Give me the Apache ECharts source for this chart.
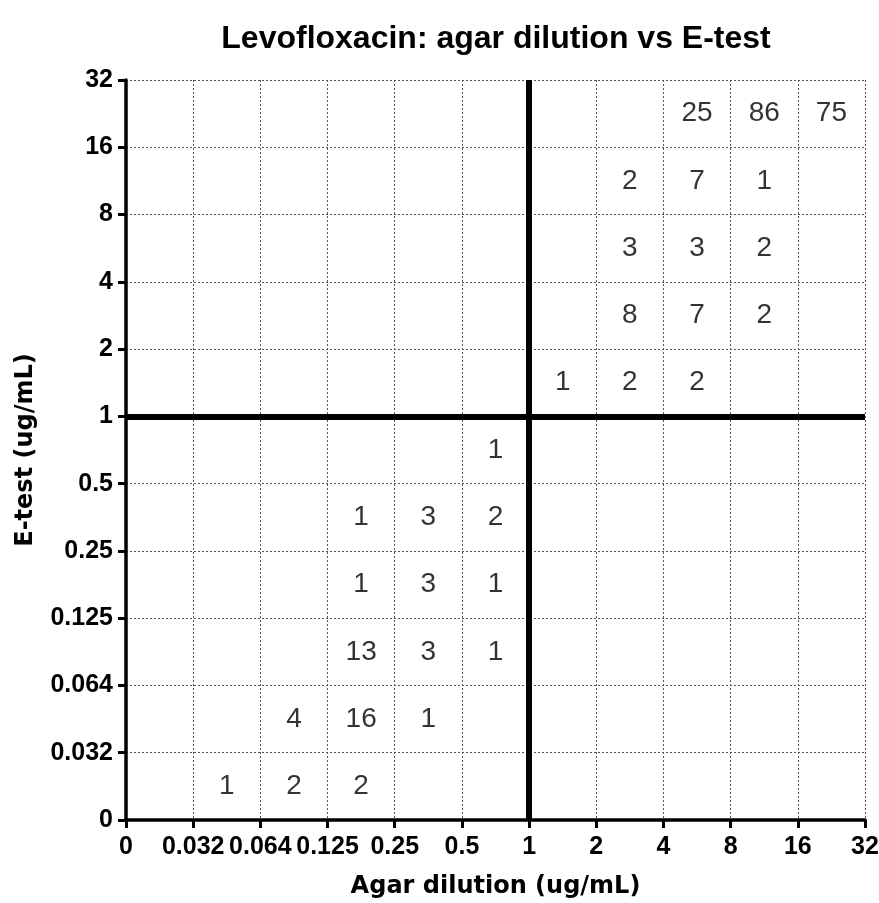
<!DOCTYPE html>
<html style="height: 100%">

<head>
  <meta charset="utf-8">
</head>

<body style="height: 100%; margin: 0">
  <div id="container" style="width: 879px; height: 903px"></div>
  <script type="text/javascript" src="https://cdn.jsdelivr.net/npm/echarts@6/dist/echarts.min.js"></script>
  <script type="text/javascript">
    // 轴刻度（两轴相同）
    var tickLabels = ['0', '0.032', '0.064', '0.125', '0.25', '0.5', '1', '2', '4', '8', '16', '32'];

    // 每个格子里的计数：[agar 格子下标, E-test 格子下标, 计数]
    var agarCell = [8, 9, 10, 7, 8, 9, 7, 8, 9, 7, 8, 9, 6, 7, 8, 5, 3, 4, 5, 3, 4, 5, 3, 4, 5, 2, 3, 4, 1, 2, 3];
    var etestCell = [10, 10, 10, 9, 9, 9, 8, 8, 8, 7, 7, 7, 6, 6, 6, 5, 4, 4, 4, 3, 3, 3, 2, 2, 2, 1, 1, 1, 0, 0, 0];
    var counts = [25, 86, 75, 2, 7, 1, 3, 3, 2, 8, 7, 2, 1, 2, 2, 1, 1, 3, 2, 1, 3, 1, 13, 3, 1, 4, 16, 1, 1, 2, 2];

    // 折点（1 ug/mL）
    var breakpoint = 6;

    var dom = document.getElementById("container");
    var myChart = echarts.init(dom);

    var cellData = counts.map(function (c, i) {
      return [agarCell[i] + 0.5, etestCell[i] + 0.5, c];
    });

    function axisCommon(name) {
      return {
        type: 'value',
        min: 0,
        max: tickLabels.length - 1,
        interval: 1,
        name: name,
        nameLocation: 'middle',
        nameTextStyle: {
          fontFamily: 'DejaVu Sans',
          fontWeight: 'bold',
          fontSize: 24,
          color: '#000'
        },
        axisLine: { show: true, onZero: false, lineStyle: { color: '#000', width: 3.5 } },
        axisTick: { show: true, length: 8, lineStyle: { color: '#000', width: 3 } },
        axisLabel: {
          fontFamily: 'Liberation Sans',
          fontWeight: 'bold',
          fontSize: 25,
          color: '#000',
          formatter: function (v) { return tickLabels[v]; }
        },
        splitLine: {
          show: true,
          lineStyle: { color: '#555', width: 1, type: [2, 2] }
        }
      };
    }

    var xAxis = axisCommon('Agar dilution (ug/mL)');
    xAxis.nameGap = 55;
    xAxis.axisLabel.margin = 15;
    var yAxis = axisCommon('E-test (ug/mL)');
    yAxis.nameGap = 88;
    yAxis.axisLabel.margin = 13;

    var option = {
      animation: false,
      title: {
        text: 'Levofloxacin: agar dilution vs E-test',
        left: 491,
        textAlign: 'center',
        top: 18,
        textStyle: {
          fontFamily: 'Liberation Sans',
          fontWeight: 'bold',
          fontSize: 32,
          color: '#000'
        }
      },
      // v6 默认会把标签收进容器，这里关掉，按像素定位
      grid: { left: 126, right: 14, top: 80, bottom: 83, outerBoundsMode: 'none' },
      xAxis: xAxis,
      yAxis: yAxis,
      series: [{
        type: 'scatter',
        symbolSize: 0,
        data: cellData,
        label: {
          show: true,
          position: 'inside',
          fontFamily: 'Liberation Sans',
          fontSize: 28,
          color: '#000',
          formatter: function (p) { return p.value[2]; }
        },
        markLine: {
          silent: true,
          symbol: 'none',
          label: { show: false },
          lineStyle: { color: '#000', width: 6, type: 'solid' },
          data: [{ xAxis: breakpoint }, { yAxis: breakpoint }]
        }
      }]
    };
    myChart.setOption(option, true);
  </script>
</body>

</html>
